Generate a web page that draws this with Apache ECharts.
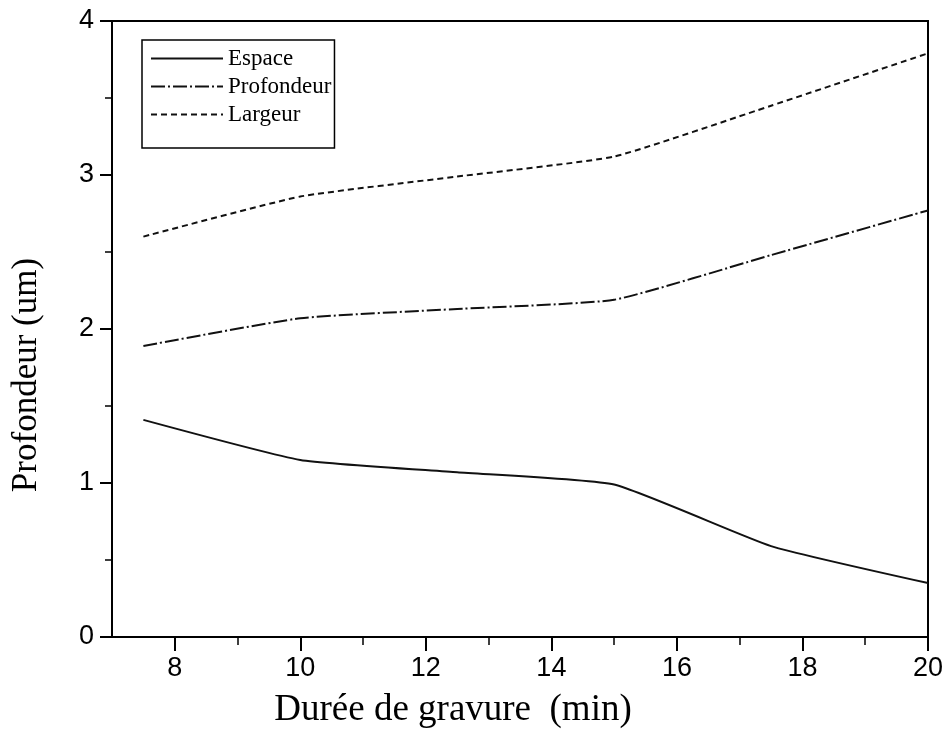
<!DOCTYPE html>
<html>
<head>
<meta charset="utf-8">
<script src="https://cdn.jsdelivr.net/npm/echarts@6/dist/echarts.min.js"></script>
<style>html,body{margin:0;padding:0;background:#fff;}#c{width:950px;height:744px;}</style>
</head>
<body>
<div id="c"></div>
<script>
const durations = [7.5, 10, 12.5, 15, 17.5, 20];
const espace = [1.41, 1.15, 1.07, 0.99, 0.59, 0.35];
const profondeur = [1.89, 2.07, 2.13, 2.19, 2.48, 2.77];
const largeur = [2.60, 2.86, 2.99, 3.12, 3.45, 3.79];
const seriesNames = ['Espace', 'Profondeur', 'Largeur'];
const xMajorTicks = [8, 10, 12, 14, 16, 18, 20];
const xMinorTicks = [9, 11, 13, 15, 17, 19];
const xTitle = 'Durée de gravure  (min)';
const yTitle = 'Profondeur (um)';

const pair = arr => durations.map((d, i) => [d, arr[i]]);
const chart = echarts.init(document.getElementById('c'), null, {renderer: 'canvas'});
const serif = '"Liberation Serif", "DejaVu Serif", serif';
const sans = '"Liberation Sans", Arial, sans-serif';
const axisLine = {show: true, onZero: false, lineStyle: {color: '#000', width: 2}};
const labelStyle = {color: '#000', fontFamily: sans, fontSize: 27};
chart.setOption({
  animation: false,
  backgroundColor: '#fff',
  grid: {left: 112, right: 22, top: 21, bottom: 107, show: true, borderColor: '#000', borderWidth: 2},
  xAxis: [
    {type: 'value', min: 7, max: 20, position: 'bottom',
      axisLine: axisLine,
      axisTick: {show: true, length: 14, customValues: xMajorTicks, lineStyle: {color: '#000', width: 2}},
      axisLabel: Object.assign({customValues: xMajorTicks, margin: 18}, labelStyle),
      splitLine: {show: false}},
    {type: 'value', min: 7, max: 20, position: 'bottom', gridIndex: 0,
      axisLine: {show: false},
      axisTick: {show: true, length: 8, customValues: xMinorTicks, lineStyle: {color: '#000', width: 1.5}},
      axisLabel: {show: false}, splitLine: {show: false}}
  ],
  yAxis: {type: 'value', min: 0, max: 4, interval: 1,
    axisLine: axisLine,
    axisTick: {show: true, length: 12, lineStyle: {color: '#000', width: 2}},
    minorTick: {show: true, splitNumber: 2, length: 7, lineStyle: {color: '#000', width: 1.5}},
    splitLine: {show: false},
    axisLabel: Object.assign({margin: 18}, labelStyle)},
  legend: {
    data: seriesNames, orient: 'vertical', left: 142, top: 40,
    itemWidth: 72, itemHeight: 14, itemGap: 5,
    borderColor: '#000', borderWidth: 1.5, padding: [7, 3, 22, 8],
    itemStyle: {opacity: 0},
    textStyle: {color: '#000', fontFamily: serif, fontSize: 23},
    backgroundColor: '#fff'
  },
  graphic: [
    {type: 'text', x: 453, y: 710, style: {text: xTitle, font: '37px ' + serif, fill: '#000', textAlign: 'center', textVerticalAlign: 'middle'}},
    {type: 'text', x: 27, y: 375, rotation: Math.PI / 2, style: {text: yTitle, font: '35px ' + serif, fill: '#000', textAlign: 'center', textVerticalAlign: 'middle'}}
  ],
  series: [
    {name: seriesNames[0], type: 'line', data: pair(espace), symbol: 'none', smooth: 0.15,
      lineStyle: {color: '#111', width: 2, type: 'solid'}, itemStyle: {color: '#111'}},
    {name: seriesNames[1], type: 'line', data: pair(profondeur), symbol: 'none', smooth: 0.15,
      lineStyle: {color: '#111', width: 2, type: [14, 3, 2, 3]}, itemStyle: {color: '#111'}},
    {name: seriesNames[2], type: 'line', data: pair(largeur), symbol: 'none', smooth: 0.15,
      lineStyle: {color: '#111', width: 2, type: [6, 4]}, itemStyle: {color: '#111'}}
  ]
});
</script>
</body>
</html>
